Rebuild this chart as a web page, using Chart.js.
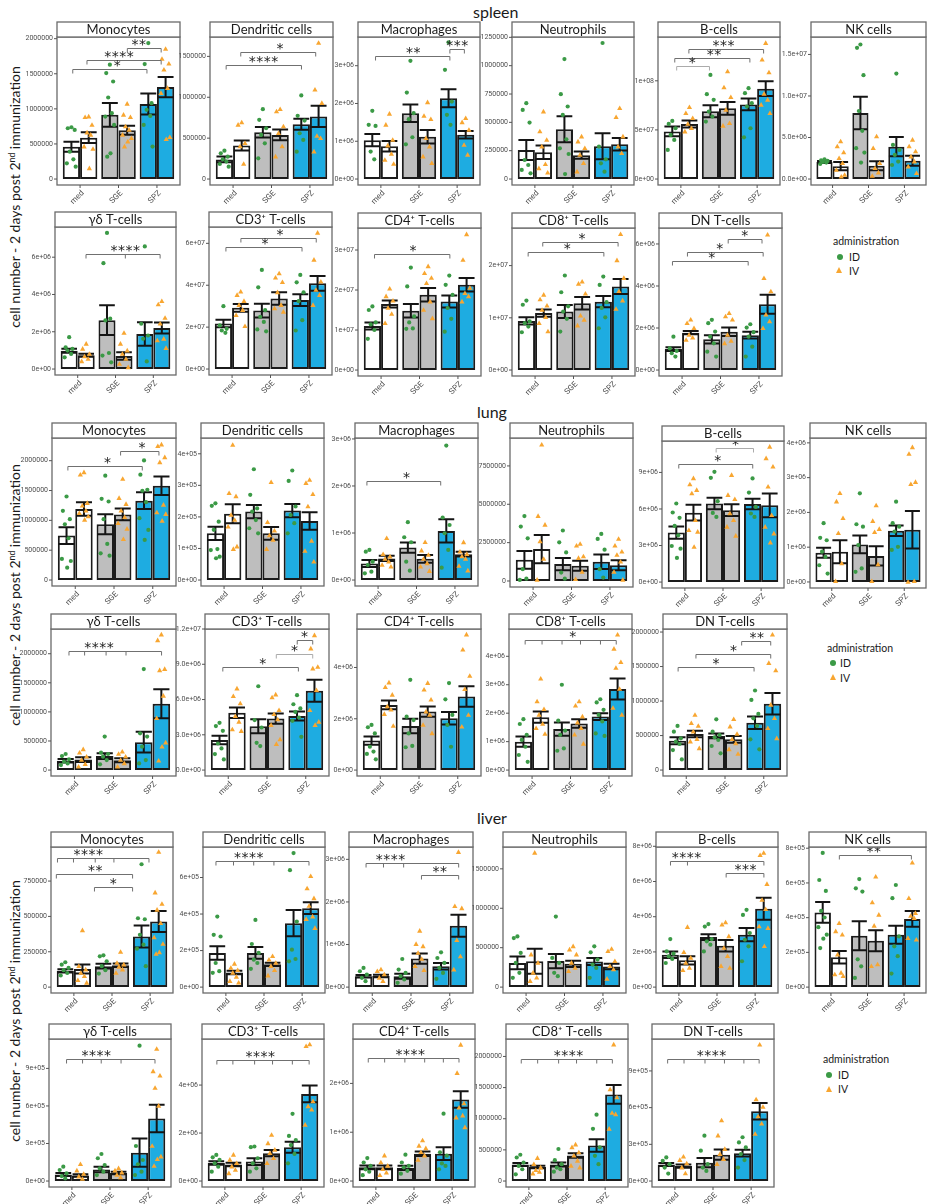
<!DOCTYPE html>
<html>
<head>
<meta charset="utf-8">
<script src="https://cdn.jsdelivr.net/npm/chart.js@4.4.1/dist/chart.umd.min.js"></script>
<style>
  html, body { margin: 0; padding: 0; background: #fff; }
  body { position: relative; width: 929px; height: 1204px; overflow: hidden; font-family: Lato, "Open Sans", sans-serif; color: #1a1a1a; }
  canvas { position: absolute; }
  .sec { position: absolute; font-size: 16px; line-height: 18px; white-space: nowrap; }
  .ytitle { position: absolute; font-size: 14px; white-space: nowrap; transform: translate(-50%, -50%) rotate(-90deg); }
  .ytitle sup { font-size: 0.62em; vertical-align: 0.55em; line-height: 0; }
  .leg { position: absolute; font-size: 10.5px; line-height: 12px; white-space: nowrap; }
  .dot { position: absolute; width: 6px; height: 6px; border-radius: 50%; background: #3b9a46; }
  .tri { position: absolute; width: 0; height: 0; border-left: 3.5px solid transparent; border-right: 3.5px solid transparent; border-bottom: 6px solid #f8a631; }
</style>
</head>
<body>
<div class="sec" style="left:473px;top:3px">spleen</div>
<div class="sec" style="left:477px;top:403px">lung</div>
<div class="sec" style="left:477px;top:809px">liver</div>

<div class="ytitle" style="left:14px;top:197px">cell number - 2 days post 2<sup>nd</sup> immunization</div>
<div class="ytitle" style="left:14px;top:595px">cell number - 2 days post 2<sup>nd</sup> immunization</div>
<div class="ytitle" style="left:14px;top:1011px">cell number - 2 days post 2<sup>nd</sup> immunization</div>

<div class="leg" style="left:833px;top:235px">administration</div>
<div class="dot" style="left:837px;top:254px"></div><div class="leg" style="left:849px;top:251px">ID</div>
<div class="tri" style="left:836px;top:267px"></div><div class="leg" style="left:849px;top:265px">IV</div>

<div class="leg" style="left:827px;top:642px">administration</div>
<div class="dot" style="left:830px;top:660px"></div><div class="leg" style="left:840px;top:657px">ID</div>
<div class="tri" style="left:830px;top:674px"></div><div class="leg" style="left:840px;top:672px">IV</div>

<div class="leg" style="left:823px;top:1053px">administration</div>
<div class="dot" style="left:826px;top:1072px"></div><div class="leg" style="left:838px;top:1069px">ID</div>
<div class="tri" style="left:826px;top:1086px"></div><div class="leg" style="left:838px;top:1083px">IV</div>

<script>
// Groups on the x axis; each group holds an ID bar and an IV bar.
const GROUPS = ['med', 'SGE', 'SPZ'];
// Order of the six bars in every array below: med-ID, med-IV, SGE-ID, SGE-IV, SPZ-ID, SPZ-IV.
// Brackets: [from, to, y, stars, label position, extra drop ticks, light line] with x in group units.

// ---------------- spleen ----------------
const spMonoMean = [460e3, 590e3, 915e3, 695e3, 1070e3, 1310e3];
const spMonoSem = [72e3, 75e3, 170e3, 65e3, 150e3, 143e3];
const spMonoPts = [
  [738e3, 724e3, 700e3, 390e3, 281e3, 224e3, 176e3],
  [890e3, 881e3, 771e3, 662e3, 629e3, 462e3, 429e3, 152e3],
  [1629e3, 1510e3, 1390e3, 1162e3, 938e3, 890e3, 771e3, 367e3, 319e3],
  [1071e3, 914e3, 881e3, 748e3, 700e3, 629e3, 581e3, 533e3, 462e3],
  [1938e3, 1638e3, 1081e3, 986e3, 900e3, 771e3, 462e3],
  [1852e3, 1710e3, 1643e3, 1557e3, 1295e3, 1224e3, 595e3, 567e3]];
const spMonoTicks = [0, 500000, 1000000, 1500000, 2000000];
const spMonoBr = [[1.23, 2.11, 1867e3, '**', 1.53], [0.18, 2.11, 1700e3, '****', 1.01], [-0.19, 1.74, 1567e3, '*', 0.97]];

const spDCMean = [240e3, 410e3, 572e3, 540e3, 670e3, 765e3];
const spDCSem = [35e3, 62e3, 65e3, 65e3, 67e3, 130e3];
const spDCPts = [
  [347e3, 315e3, 274e3, 241e3, 213e3, 184e3, 151e3],
  [691e3, 662e3, 437e3, 397e3, 184e3],
  [854e3, 724e3, 621e3, 540e3, 437e3, 253e3],
  [854e3, 826e3, 642e3, 560e3, 397e3, 274e3],
  [1022e3, 773e3, 715e3, 560e3, 478e3, 335e3],
  [1664e3, 1092e3, 928e3, 527e3, 499e3, 335e3]];
const spDCTicks = [0, 500000, 1000000, 1500000];
const spDCBr = [[0.2, 2.15, 1549e3, '*', 1.22], [-0.18, 1.78, 1398e3, '****', 0.79]];

const spMacMean = [1.03e6, 0.87e6, 1.74e6, 1.12e6, 2.14e6, 1.17e6];
const spMacSem = [0.16e6, 0.14e6, 0.23e6, 0.18e6, 0.24e6, 0.1e6];
const spMacPts = [
  [1.805e6, 1.434e6, 1.407e6, 0.726e6, 0.522e6],
  [1.726e6, 1.434e6, 1.035e6, 0.885e6, 0.664e6, 0.504e6, 0.398e6],
  [3.13e6, 2.29e6, 1.743e6, 1.584e6, 1.106e6, 0.92e6],
  [2.03e6, 1.67e6, 1.584e6, 1.08e6, 0.858e6, 0.593e6, 0.416e6],
  [3.62e6, 2.89e6, 2.05e6, 1.70e6, 1.434e6],
  [1.61e6, 1.5e6, 1.3e6, 0.9e6, 0.64e6]];
const spMacTicks = [0, 1e6, 2e6, 3e6];
const spMacBr = [[-0.14, 1.81, 3.25e6, '**', 0.85], [1.81, 2.19, 3.44e6, '***', 2.0]];

const spNeutMean = [256e3, 236e3, 439e3, 210e3, 290e3, 307e3];
const spNeutSem = [88e3, 59e3, 115e3, 32e3, 115e3, 55e3];
const spNeutPts = [
  [669e3, 610e3, 498e3, 168e3, 124e3, 80e3, 50e3],
  [595e3, 419e3, 345e3, 286e3, 130e3, 94e3, 56e3],
  [1058e3, 749e3, 640e3, 566e3, 351e3, 271e3, 221e3, 44e3],
  [374e3, 330e3, 271e3, 212e3, 139e3, 65e3],
  [1200e3, 286e3, 174e3, 139e3, 65e3],
  [625e3, 545e3, 374e3, 286e3, 227e3]];
const spNeutTicks = [0, 250000, 500000, 750000, 1000000, 1250000];
const spNeutBr = [];

const spBMean = [48.5e6, 56e6, 69e6, 72e6, 76e6, 92e6];
const spBSem = [5e6, 3.5e6, 6e6, 6.5e6, 6e6, 7.5e6];
const spBPts = [
  [59.2e6, 56.1e6, 51.7e6, 44.9e6, 39.8e6, 29.6e6],
  [73.1e6, 67e6, 61.9e6, 56.1e6, 51.7e6, 48.3e6],
  [106e6, 86.4e6, 80.6e6, 68.7e6, 63.6e6, 58.5e6],
  [109.5e6, 93.2e6, 83.3e6, 70.4e6, 56.8e6, 54.1e6],
  [92.5e6, 87.4e6, 77.2e6, 73.8e6, 51.7e6, 42.5e6],
  [138.4e6, 121.4e6, 108.5e6, 86.7e6, 80.6e6, 75.5e6, 67e6]];
const spBTicks = [0, 5e7, 1e8];
const spBBr = [[0.21, 2.17, 132.3e6, '***', 1.12], [-0.16, 1.81, 123.1e6, '**', 0.87], [-0.11, 0.75, 115.3e6, '*', 0.3, [], 1]];

const spNKMean = [2.05e6, 1.55e6, 7.95e6, 1.6e6, 3.9e6, 2.2e6];
const spNKSem = [0.12e6, 0.5e6, 1.95e6, 0.55e6, 1.15e6, 0.6e6];
const spNKPts = [
  [2.38e6, 2.25e6, 2.18e6, 2.05e6, 1.98e6, 1.81e6],
  [4.52e6, 3.91e6, 3.19e6, 2.5e6, 1.9e6, 1.09e6, 0.48e6, 0.28e6],
  [16.2e6, 15.8e6, 12.5e6, 8.19e6, 5.8e6, 3.71e6, 3.19e6, 1.98e6],
  [5.12e6, 3.71e6, 1.9e6, 1.29e6, 0.77e6, 0.36e6],
  [12.7e6, 4.11e6, 3.5e6, 2.9e6, 2.1e6, 1.69e6],
  [4.72e6, 3.91e6, 3.31e6, 2.7e6, 2.1e6, 1.49e6, 0.69e6]];
const spNKTicks = [0, 5e6, 1e7, 1.5e7];
const spNKBr = [];

const spGDMean = [0.98e6, 0.74e6, 2.62e6, 0.7e6, 1.88e6, 2.2e6];
const spGDSem = [0.11e6, 0.08e6, 0.8e6, 0.2e6, 0.63e6, 0.3e6];
const spGDPts = [
  [1.71e6, 1.17e6, 1.08e6, 0.99e6, 0.81e6, 0.63e6],
  [1.35e6, 1.08e6, 0.81e6, 0.67e6, 0.54e6, 0.41e6],
  [7.3e6, 5.68e6, 2.7e6, 2.61e6, 0.86e6, 0.72e6, 0.36e6],
  [1.93e6, 1.35e6, 0.99e6, 0.81e6, 0.54e6, 0.27e6, 0.09e6],
  [6.58e6, 2.43e6, 1.8e6, 1.62e6, 0.41e6],
  [3.64e6, 3.46e6, 2.74e6, 2.43e6, 1.62e6, 1.53e6, 1.12e6]];
const spGDTicks = [0, 2e6, 4e6, 6e6];
const spGDBr = [[0.22, 2.18, 6.16e6, '****', 1.26, [1.26]]];

const spCD3Mean = [21.7e6, 29.2e6, 27.9e6, 33.7e6, 32.9e6, 40.9e6];
const spCD3Sem = [1.8e6, 1.8e6, 3.3e6, 3e6, 2.8e6, 3.5e6];
const spCD3Pts = [
  [30e6, 20.8e6, 19.2e6, 18.4e6, 17.3e6],
  [36.9e6, 35.3e6, 32.4e6, 30.5e6, 28.1e6, 25.7e6, 20.4e6],
  [47.3e6, 39e6, 28.1e6, 24.9e6, 22.5e6, 18.9e6, 18e6],
  [45.6e6, 43.6e6, 41.4e6, 36.6e6, 30.5e6, 28.9e6, 27.3e6],
  [44.9e6, 41.4e6, 36.6e6, 32.4e6, 23.3e6, 18.4e6],
  [65e6, 52.1e6, 41.7e6, 37.7e6, 35.3e6, 30.5e6]];
const spCD3Ticks = [0, 2e7, 4e7, 6e7];
const spCD3Br = [[0.23, 2.19, 62.6e6, '*', 1.25], [-0.16, 1.82, 58.2e6, '*', 0.86]];

const spCD4Mean = [11e6, 16.5e6, 14.8e6, 18.8e6, 17.1e6, 21.3e6];
const spCD4Sem = [0.85e6, 0.9e6, 1.7e6, 1.7e6, 1.5e6, 1.7e6];
const spCD4Pts = [
  [15.9e6, 15e6, 11.9e6, 11.4e6, 10e6, 7.8e6],
  [20.3e6, 18.4e6, 17.3e6, 15.5e6, 14e6, 11.7e6],
  [25.6e6, 20.9e6, 13.4e6, 11.9e6, 10.4e6, 10.3e6],
  [25.9e6, 24.2e6, 23e6, 21.7e6, 17.1e6, 15e6, 12.9e6],
  [23.6e6, 21.3e6, 18.8e6, 15.5e6, 12.8e6, 9.6e6],
  [33.9e6, 27.5e6, 20.5e6, 19.2e6, 18.4e6, 17.1e6]];
const spCD4Ticks = [0, 1e7, 2e7, 3e7];
const spCD4Br = [[-0.17, 1.79, 29e6, '*', 0.83]];

const spCD8Mean = [9.4e6, 10.9e6, 11.2e6, 12.8e6, 13.1e6, 16e6];
const spCD8Sem = [0.7e6, 0.7e6, 1.25e6, 1.2e6, 1.1e6, 1.45e6];
const spCD8Pts = [
  [13.3e6, 12.5e6, 9.3e6, 8.97e6, 8.33e6, 7.24e6],
  [14.4e6, 13.5e6, 12.3e6, 11.5e6, 10.1e6, 8.97e6, 7.37e6],
  [18.1e6, 14.9e6, 12.2e6, 11.2e6, 9.8e6, 7.37e6],
  [16.9e6, 16.5e6, 14.6e6, 10.4e6, 9.6e6, 8.5e6],
  [17.9e6, 16.3e6, 13e6, 11.9e6, 10.1e6, 8e6],
  [26e6, 21e6, 17.6e6, 15.1e6, 13.3e6, 11.7e6]];
const spCD8Ticks = [0, 1e7, 2e7];
const spCD8Br = [[0.2, 2.16, 24.5e6, '*', 1.22], [-0.18, 1.79, 22.6e6, '*', 0.84]];

const spDNMean = [1.0e6, 1.78e6, 1.46e6, 1.82e6, 1.66e6, 3.13e6];
const spDNSem = [0.09e6, 0.08e6, 0.2e6, 0.2e6, 0.16e6, 0.45e6];
const spDNPts = [
  [1.59e6, 1.03e6, 0.91e6, 0.8e6, 0.64e6],
  [2.39e6, 2.23e6, 1.99e6, 1.67e6, 1.54e6, 1.43e6],
  [2.39e6, 2.23e6, 1.83e6, 1.59e6, 1.27e6, 0.875e6, 0.64e6],
  [2.7e6, 2.55e6, 2.39e6, 1.67e6, 1.38e6, 1.27e6],
  [2.18e6, 2.02e6, 1.8e6, 1.59e6, 1.11e6, 0.64e6],
  [6.44e6, 4.37e6, 3.74e6, 2.63e6, 2.31e6, 1.99e6]];
const spDNTicks = [0, 2e6, 4e6, 6e6];
const spDNBr = [[1.2, 2.08, 6.24e6, '*', 1.63], [0.14, 2.11, 5.62e6, '*', 0.98], [-0.25, 1.72, 5.17e6, '*', 0.77]];

// ---------------- lung ----------------
const luMonoMean = [745e3, 1190e3, 935e3, 1100e3, 1330e3, 1580e3];
const luMonoSem = [140e3, 112e3, 168e3, 100e3, 140e3, 155e3];
const luMonoPts = [
  [1400e3, 1160e3, 1020e3, 935e3, 700e3, 353e3, 319e3, 207e3],
  [1804e3, 1765e3, 1288e3, 1244e3, 1160e3, 1120e3, 1064e3, 1008e3],
  [1748e3, 1361e3, 1316e3, 1020e3, 605e3, 448e3, 409e3],
  [1692e3, 1372e3, 1272e3, 1160e3, 1053e3, 952e3, 857e3, 683e3],
  [2005e3, 1765e3, 1513e3, 1496e3, 1305e3, 1036e3, 840e3, 672e3],
  [2269e3, 2241e3, 2056e3, 1972e3, 1260e3, 1132e3, 1104e3, 992e3]];
const luMonoTicks = [0, 500000, 1000000, 1500000, 2000000];
const luMonoBr = [[1.17, 2.16, 2.168e6, '*', 1.72], [-0.19, 1.73, 1.905e6, '*', 0.83]];

const luDCMean = [148e3, 210e3, 217e3, 148e3, 220e3, 187e3];
const luDCSem = [21e3, 30e3, 21e3, 20e3, 21e3, 28e3];
const luDCPts = [
  [243e3, 235e3, 185e3, 159e3, 98e3, 95e3, 74e3, 69e3],
  [428e3, 275e3, 265e3, 206e3, 190e3, 169e3, 106e3, 98e3],
  [351e3, 270e3, 227e3, 217e3, 190e3, 164e3, 148e3],
  [310e3, 183e3, 156e3, 141e3, 127e3, 98e3],
  [347e3, 314e3, 233e3, 206e3, 180e3, 148e3],
  [317e3, 307e3, 272e3, 233e3, 124e3, 92e3, 58e3]];
const luDCTicks = [0, 1e5, 2e5, 3e5, 4e5];
const luDCBr = [];

const luMacMean = [0.35e6, 0.46e6, 0.69e6, 0.45e6, 1.045e6, 0.55e6];
const luMacSem = [0.075e6, 0.055e6, 0.11e6, 0.08e6, 0.245e6, 0.05e6];
const luMacPts = [
  [0.64e6, 0.604e6, 0.39e6, 0.32e6, 0.178e6, 0.142e6],
  [0.888e6, 0.547e6, 0.497e6, 0.448e6, 0.39e6, 0.32e6, 0.284e6],
  [1.23e6, 0.91e6, 0.803e6, 0.39e6, 0.2e6],
  [0.803e6, 0.625e6, 0.533e6, 0.448e6, 0.355e6, 0.284e6, 0.19e6],
  [2.86e6, 1.33e6, 1.17e6, 0.995e6, 0.64e6, 0.263e6],
  [0.8e6, 0.6e6, 0.55e6, 0.5e6, 0.45e6, 0.3e6, 0.2e6]];
const luMacTicks = [0, 1e6, 2e6, 3e6];
const luMacBr = [[-0.29, 1.63, 2.11e6, '*', 0.74]];

const luNeutMean = [1.38e6, 2.08e6, 1.1e6, 0.99e6, 1.25e6, 1.03e6];
const luNeutSem = [0.58e6, 0.92e6, 0.4e6, 0.33e6, 0.47e6, 0.33e6];
const luNeutPts = [
  [4.23e6, 3.55e6, 2.78e6, 0.77e6, 0.15e6, 0.07e6],
  [8.88e6, 4.23e6, 3.66e6, 2.57e6, 1.43e6, 0.07e6],
  [3.29e6, 2.52e6, 1.86e6, 0.55e6, 0.15e6],
  [2.41e6, 2.3e6, 1.6e6, 1.49e6, 0.59e6, 0.11e6],
  [3.07e6, 2.74e6, 2.04e6, 0.77e6, 0.22e6],
  [2.74e6, 2.3e6, 1.91e6, 1.69e6, 1.25e6, 0.59e6, 0.07e6]];
const luNeutTicks = [0, 2500000, 5000000, 7500000];
const luNeutBr = [];

const luBMean = [4.06e6, 5.7e6, 6.45e6, 5.9e6, 6.4e6, 6.3e6];
const luBSem = [0.5e6, 0.65e6, 0.48e6, 0.48e6, 0.43e6, 0.98e6];
const luBPts = [
  [6.45e6, 5.71e6, 5.27e6, 4.61e6, 3.84e6, 2.96e6, 2.74e6, 1.98e6],
  [8.51e6, 8.01e6, 7.55e6, 7.27e6, 5.08e6, 4.25e6, 4.12e6, 2.88e6],
  [9.05e6, 8.56e6, 6.64e6, 5.68e6, 5.35e6],
  [8.78e6, 7.14e6, 6.8e6, 5.63e6, 5.08e6, 4.53e6, 3.79e6],
  [8.51e6, 7.35e6, 6.17e6, 5.63e6, 5.35e6],
  [11.1e6, 10.15e6, 9.47e6, 7.82e6, 5.49e6, 4.53e6, 3.98e6, 3.24e6]];
const luBTicks = [0, 3e6, 6e6, 9e6];
const luBBr = [[0.82, 1.8, 10.98e6, '*', 1.33, [], 1], [-0.16, 1.78, 9.66e6, '*', 0.86]];

const luNKMean = [0.84e6, 0.87e6, 1.08e6, 0.75e6, 1.47e6, 1.5e6];
const luNKSem = [0.145e6, 0.33e6, 0.255e6, 0.28e6, 0.15e6, 0.54e6];
const luNKPts = [
  [1.69e6, 1.27e6, 1.2e6, 0.87e6, 0.72e6, 0.48e6, 0.24e6],
  [2.55e6, 2.31e6, 1.83e6, 1.4e6, 0.53e6, 0.02e6],
  [2.55e6, 1.66e6, 1.59e6, 1.06e6, 0.39e6, 0.29e6],
  [2.2e6, 1.75e6, 1.52e6, 1.43e6, 0.5e6, 0.02e6],
  [2.31e6, 1.69e6, 1.59e6, 1.45e6, 1.01e6, 0.92e6],
  [3.87e6, 3.68e6, 2.87e6, 2.81e6, 0.02e6, 0]];
const luNKTicks = [0, 1e6, 2e6, 3e6, 4e6];
const luNKBr = [];

const luGDMean = [160e3, 180e3, 240e3, 170e3, 480e3, 1140e3];
const luGDSem = [30e3, 40e3, 50e3, 35e3, 180e3, 250e3];
const luGDPts = [
  [276e3, 241e3, 184e3, 144e3, 115e3, 86e3],
  [356e3, 299e3, 230e3, 172e3, 103e3, 57e3],
  [575e3, 299e3, 276e3, 230e3, 172e3, 98e3],
  [316e3, 276e3, 230e3, 172e3, 115e3, 57e3],
  [1736e3, 632e3, 575e3, 402e3, 172e3, 115e3],
  [2328e3, 2230e3, 1736e3, 1713e3, 1276e3, 891e3, 471e3, 402e3, 161e3]];
const luGDTicks = [0, 500000, 1000000, 1500000, 2000000];
const luGDBr = [[-0.14, 2.23, 2.04e6, '****', 0.63, [0.26, 0.81, 1.32]]];

const luCD3Mean = [2.55e6, 4.87e6, 3.73e6, 4.38e6, 4.6e6, 6.75e6];
const luCD3Sem = [0.36e6, 0.45e6, 0.6e6, 0.43e6, 0.38e6, 0.93e6];
const luCD3Pts = [
  [4.02e6, 3.74e6, 3.34e6, 2.26e6, 1.84e6, 1.36e6, 0.91e6],
  [6.93e6, 6.28e6, 5.66e6, 4.58e6, 4.1e6, 3.45e6, 3.31e6],
  [7.13e6, 4.25e6, 3.62e6, 2.32e6, 2.04e6],
  [6.42e6, 6.17e6, 5.09e6, 4.75e6, 4.3e6, 3.82e6, 2.6e6, 2.21e6],
  [6.37e6, 5.6e6, 5.24e6, 4.95e6, 4.47e6, 4.19e6, 2.83e6],
  [11.46e6, 10.33e6, 8.77e6, 8.63e6, 6.79e6, 5.09e6, 4.1e6, 3.82e6]];
const luCD3Ticks = [0, 3e6, 6e6, 9e6, 1.2e7];
const luCD3Br = [[1.78, 2.18, 11.04e6, '*', 1.97], [1.24, 2.18, 9.9e6, '*', 1.71, [], 1], [-0.14, 1.81, 8.77e6, '*', 0.89]];

const luCD4Mean = [1.15e6, 2.54e6, 1.72e6, 2.28e6, 2.02e6, 2.87e6];
const luCD4Sem = [0.16e6, 0.17e6, 0.28e6, 0.2e6, 0.24e6, 0.4e6];
const luCD4Pts = [
  [1.76e6, 1.67e6, 1.43e6, 0.91e6, 0.72e6, 0.63e6, 0.42e6],
  [3.41e6, 3.23e6, 2.93e6, 2.48e6, 2.35e6, 2.18e6, 1.72e6],
  [3.52e6, 2.08e6, 1.95e6, 1.43e6, 0.94e6, 0.89e6],
  [3.39e6, 3.13e6, 2.74e6, 2.28e6, 2.15e6, 1.76e6, 1.43e6],
  [3.39e6, 2.76e6, 2.15e6, 1.76e6, 0.91e6],
  [5.28e6, 4.69e6, 3.67e6, 3.15e6, 2.15e6, 1.69e6]];
const luCD4Ticks = [0, 2e6, 4e6];
const luCD4Br = [];

const luCD8Mean = [1.0e6, 1.86e6, 1.44e6, 1.64e6, 1.88e6, 2.85e6];
const luCD8Sem = [0.18e6, 0.2e6, 0.23e6, 0.15e6, 0.12e6, 0.37e6];
const luCD8Pts = [
  [1.79e6, 1.62e6, 1.24e6, 1.06e6, 0.82e6, 0.53e6, 0.29e6],
  [3.21e6, 2.41e6, 2.14e6, 1.94e6, 1.62e6, 1.47e6, 1.27e6],
  [3.0e6, 1.74e6, 1.39e6, 1.24e6, 0.76e6, 0.68e6],
  [2.41e6, 2.26e6, 1.88e6, 1.67e6, 1.47e6, 1.24e6, 0.92e6],
  [2.49e6, 2.38e6, 2.12e6, 1.94e6, 1.71e6, 1.29e6, 1.2e6],
  [4.76e6, 4.26e6, 3.79e6, 3.59e6, 2.85e6, 2.18e6, 1.94e6]];
const luCD8Ticks = [0, 1e6, 2e6, 3e6, 4e6];
const luCD8Br = [[-0.18, 2.19, 4.59e6, '*', 1.06, [0.26, 0.78, 1.26, 1.78]]];

const luDNMean = [425e3, 523e3, 495e3, 445e3, 685e3, 960e3];
const luDNSem = [50e3, 48e3, 35e3, 50e3, 90e3, 155e3];
const luDNPts = [
  [639e3, 557e3, 460e3, 412e3, 378e3, 290e3, 155e3],
  [799e3, 678e3, 639e3, 557e3, 446e3, 412e3, 315e3],
  [736e3, 557e3, 508e3, 475e3, 436e3, 349e3, 242e3],
  [736e3, 630e3, 523e3, 446e3, 387e3, 300e3, 232e3],
  [1153e3, 1017e3, 813e3, 750e3, 639e3, 446e3, 300e3],
  [1961e3, 1550e3, 1443e3, 944e3, 750e3, 605e3, 460e3]];
const luDNTicks = [0, 500000, 1000000, 1500000, 2000000];
const luDNBr = [[1.43, 2.18, 1.865e6, '**', 1.82], [0.25, 2.18, 1.68e6, '*', 1.22], [-0.21, 1.75, 1.5e6, '*', 0.77]];

// ---------------- liver ----------------
const liMonoMean = [115e3, 128e3, 148e3, 155e3, 358e3, 464e3];
const liMonoSem = [12e3, 32e3, 17e3, 12e3, 77e3, 75e3];
const liMonoPts = [
  [176e3, 159e3, 136e3, 120e3, 100e3, 82e3],
  [401e3, 148e3, 124e3, 100e3, 77e3, 49e3, 30e3],
  [225e3, 218e3, 183e3, 148e3, 120e3, 96e3],
  [248e3, 171e3, 159e3, 143e3, 124e3, 100e3],
  [869e3, 487e3, 480e3, 370e3, 300e3, 272e3, 148e3],
  [956e3, 668e3, 588e3, 546e3, 452e3, 351e3, 305e3, 246e3, 234e3]];
const liMonoTicks = [0, 250000, 500000, 750000];
const liMonoBr = [[-0.43, 1.97, 916e3, '****', 0.38, [-0.01, 0.56, 1.05]], [-0.46, 1.54, 799e3, '**', 0.56], [0.54, 1.54, 705e3, '*', 1.03]];

const liDCMean = [187e3, 80e3, 187e3, 125e3, 350e3, 432e3];
const liDCSem = [37e3, 9e3, 32e3, 9e3, 72e3, 32e3];
const liDCPts = [
  [386e3, 286e3, 277e3, 132e3, 87e3, 78e3],
  [127e3, 105e3, 92e3, 78e3, 56e3, 33e3, 24e3],
  [368e3, 236e3, 187e3, 150e3, 132e3, 100e3],
  [169e3, 150e3, 132e3, 114e3, 92e3, 63e3],
  [734e3, 640e3, 359e3, 205e3, 154e3, 141e3],
  [607e3, 540e3, 486e3, 444e3, 386e3, 372e3, 323e3]];
const liDCTicks = [0, 2e5, 4e5, 6e5];
const liDCBr = [[-0.26, 2.18, 691e3, '****', 0.6, [0.2, 0.73, 1.26]]];

const liMacMean = [0.255e6, 0.26e6, 0.255e6, 0.67e6, 0.49e6, 1.44e6];
const liMacSem = [0.03e6, 0.03e6, 0.06e6, 0.12e6, 0.075e6, 0.26e6];
const liMacPts = [
  [0.45e6, 0.373e6, 0.295e6, 0.218e6, 0.14e6],
  [0.412e6, 0.373e6, 0.295e6, 0.218e6, 0.14e6],
  [0.66e6, 0.412e6, 0.334e6, 0.256e6, 0.179e6, 0.1e6],
  [1.32e6, 1.01e6, 0.956e6, 0.8e6, 0.66e6, 0.49e6, 0.396e6],
  [0.816e6, 0.684e6, 0.567e6, 0.45e6, 0.334e6, 0.194e6],
  [3.17e6, 1.9e6, 1.85e6, 1.1e6, 0.72e6, 0.41e6]];
const liMacTicks = [0, 1e6, 2e6, 3e6];
const liMacBr = [[-0.16, 2.23, 2.92e6, '****', 0.47, [0.29, 0.81]], [1.27, 2.23, 2.63e6, '**', 1.74]];

const liNeutMean = [307e3, 328e3, 330e3, 295e3, 325e3, 262e3];
const liNeutSem = [80e3, 157e3, 90e3, 40e3, 45e3, 35e3];
const liNeutPts = [
  [643e3, 622e3, 433e3, 307e3, 181e3, 118e3],
  [1702e3, 412e3, 307e3, 181e3, 118e3, 76e3],
  [895e3, 370e3, 307e3, 181e3, 139e3],
  [517e3, 475e3, 412e3, 307e3, 244e3, 202e3],
  [517e3, 441e3, 349e3, 286e3, 244e3, 118e3],
  [483e3, 454e3, 328e3, 265e3, 223e3, 105e3]];
const liNeutTicks = [0, 500000, 1000000, 1500000];
const liNeutBr = [];

const liBMean = [1.84e6, 1.52e6, 2.84e6, 2.35e6, 2.98e6, 4.45e6];
const liBSem = [0.18e6, 0.24e6, 0.16e6, 0.33e6, 0.38e6, 0.62e6];
const liBPts = [
  [2.73e6, 2.03e6, 1.9e6, 1.75e6, 1.6e6, 1.37e6],
  [3.41e6, 1.98e6, 1.66e6, 1.37e6, 1.09e6, 0.96e6],
  [3.58e6, 3.44e6, 2.73e6, 2.6e6, 2.41e6, 2.03e6],
  [3.67e6, 3.54e6, 2.88e6, 2.22e6, 1.75e6, 1.19e6, 1.09e6],
  [4.39e6, 4.1e6, 3.07e6, 2.69e6, 2.32e6, 1.47e6],
  [7.62e6, 7.49e6, 5.85e6, 4.95e6, 4.42e6, 3.44e6, 3.35e6, 2.32e6]];
const liBTicks = [0, 2e6, 4e6, 6e6, 8e6];
const liBBr = [[-0.22, 2.23, 7.17e6, '****', 0.2, [0.225]], [1.24, 2.23, 6.51e6, '***', 1.75]];

const liNKMean = [430e3, 172e3, 296e3, 267e3, 302e3, 393e3];
const liNKSem = [60e3, 36e3, 84e3, 60e3, 52e3, 45e3];
const liNKPts = [
  [773e3, 617e3, 554e3, 439e3, 401e3, 345e3, 302e3, 279e3, 225e3],
  [368e3, 321e3, 302e3, 187e3, 82e3, 73e3, 63e3],
  [622e3, 569e3, 550e3, 160e3, 120e3, 53e3],
  [636e3, 487e3, 416e3, 353e3, 130e3, 120e3],
  [588e3, 512e3, 292e3, 235e3, 178e3, 78e3],
  [716e3, 512e3, 426e3, 410e3, 397e3, 282e3, 273e3]];
const liNKTicks = [0, 2e5, 4e5, 6e5, 8e5];
const liNKBr = [[0.23, 2.2, 760e3, '**', 1.17]];

const liGDMean = [52e3, 45e3, 92e3, 65e3, 227e3, 500e3];
const liGDSem = [12e3, 10e3, 22e3, 10e3, 113e3, 110e3];
const liGDPts = [
  [115e3, 88e3, 61e3, 40e3, 21e3],
  [134e3, 83e3, 56e3, 35e3, 16e3],
  [216e3, 182e3, 128e3, 101e3, 75e3, 48e3],
  [101e3, 83e3, 67e3, 48e3, 29e3],
  [1082e3, 280e3, 168e3, 134e3, 75e3, 48e3],
  [1055e3, 876e3, 841e3, 743e3, 601e3, 280e3, 195e3, 174e3, 120e3]];
const liGDTicks = [0, 3e5, 6e5, 9e5];
const liGDBr = [[-0.14, 2.18, 975e3, '****', 0.64, [0.28, 0.77, 1.29]]];

const liCD3Mean = [0.75e6, 0.69e6, 0.81e6, 1.16e6, 1.41e6, 3.63e6];
const liCD3Sem = [0.07e6, 0.07e6, 0.14e6, 0.13e6, 0.23e6, 0.35e6];
const liCD3Pts = [
  [1.09e6, 0.99e6, 0.88e6, 0.74e6, 0.6e6, 0.39e6],
  [1.09e6, 0.88e6, 0.74e6, 0.6e6, 0.46e6, 0.32e6],
  [1.44e6, 1.41e6, 0.95e6, 0.74e6, 0.53e6, 0.39e6],
  [1.92e6, 1.57e6, 1.3e6, 1.16e6, 0.95e6, 0.74e6],
  [2.8e6, 1.88e6, 1.71e6, 1.5e6, 1.13e6, 0.74e6],
  [5.69e6, 5.62e6, 3.32e6, 3.11e6, 2.97e6, 2.34e6]];
const liCD3Ticks = [0, 2e6, 4e6];
const liCD3Br = [[-0.21, 2.21, 5.06e6, '****', 0.93, [0.21, 0.78, 1.25, 1.77]]];

const liCD4Mean = [0.28e6, 0.28e6, 0.27e6, 0.56e6, 0.56e6, 1.67e6];
const liCD4Sem = [0.04e6, 0.04e6, 0.045e6, 0.045e6, 0.13e6, 0.17e6];
const liCD4Pts = [
  [0.47e6, 0.38e6, 0.31e6, 0.24e6, 0.19e6, 0.12e6],
  [0.52e6, 0.38e6, 0.31e6, 0.24e6, 0.17e6, 0.12e6],
  [0.54e6, 0.38e6, 0.31e6, 0.28e6, 0.21e6, 0.15e6],
  [0.83e6, 0.72e6, 0.67e6, 0.59e6, 0.52e6, 0.43e6],
  [1.38e6, 0.59e6, 0.52e6, 0.36e6, 0.31e6, 0.24e6],
  [2.79e6, 2.21e6, 1.59e6, 1.5e6, 1.34e6, 1.3e6, 1.1e6]];
const liCD4Ticks = [0, 1e6, 2e6];
const liCD4Br = [[-0.2, 2.18, 2.52e6, '****', 0.9, [0.23, 0.76, 1.28, 1.77]]];

const liCD8Mean = [265e3, 225e3, 265e3, 410e3, 570e3, 1390e3];
const liCD8Sem = [25e3, 20e3, 32e3, 35e3, 100e3, 150e3];
const liCD8Pts = [
  [422e3, 378e3, 297e3, 243e3, 189e3, 108e3],
  [367e3, 270e3, 216e3, 173e3, 146e3, 119e3],
  [514e3, 335e3, 270e3, 216e3, 189e3, 151e3],
  [584e3, 541e3, 459e3, 405e3, 324e3, 243e3, 216e3],
  [1065e3, 838e3, 541e3, 405e3, 270e3],
  [2189e3, 1470e3, 1340e3, 1092e3, 1070e3, 838e3]];
const liCD8Ticks = [0, 500000, 1000000, 1500000, 2000000];
const liCD8Br = [[-0.2, 2.19, 1.957e6, '****', 1.04, [0.23, 0.78, 1.25, 1.78]]];

const liDNMean = [135e3, 122e3, 150e3, 215e3, 228e3, 570e3];
const liDNSem = [12e3, 13e3, 38e3, 42e3, 28e3, 67e3];
const liDNPts = [
  [193e3, 165e3, 138e3, 110e3, 61e3],
  [198e3, 171e3, 143e3, 110e3, 61e3],
  [371e3, 248e3, 138e3, 110e3, 83e3],
  [495e3, 371e3, 261e3, 220e3, 179e3, 138e3],
  [358e3, 316e3, 275e3, 220e3, 171e3, 110e3],
  [1114e3, 666e3, 605e3, 528e3, 468e3, 385e3]];
const liDNTicks = [0, 3e5, 6e5, 9e5];
const liDNBr = [[-0.19, 2.21, 996e3, '****', 0.96, [0.24, 0.79, 1.3, 1.81]]];

// ---------------- layout ----------------
// title, [left, strip top, right, bottom], mean, sem, points, ticks, tick-label digits (-1 = plain), y at panel top, brackets
const PANELS = [
  ['Monocytes',        [57, 22, 180, 185],   spMonoMean, spMonoSem, spMonoPts, spMonoTicks, -1, 2.024e6, spMonoBr],
  ['Dendritic cells',  [210, 22, 333, 185],  spDCMean, spDCSem, spDCPts, spDCTicks, -1, 1.737e6, spDCBr],
  ['Macrophages',      [358, 22, 480, 185],  spMacMean, spMacSem, spMacPts, spMacTicks, 0, 3.76e6, spMacBr],
  ['Neutrophils',      [512, 22, 634, 185],  spNeutMean, spNeutSem, spNeutPts, spNeutTicks, -1, 1.253e6, spNeutBr],
  ['B-cells',          [658, 22, 780, 185],  spBMean, spBSem, spBPts, spBTicks, 0, 144.6e6, spBBr],
  ['NK cells',         [811, 22, 926, 185],  spNKMean, spNKSem, spNKPts, spNKTicks, 1, 17.1e6, spNKBr],
  ['\u03b3\u03b4 T-cells', [55, 212, 176, 375], spGDMean, spGDSem, spGDPts, spGDTicks, 0, 7.62e6, spGDBr],
  ['CD3\u207a T-cells',   [209, 212, 332, 375], spCD3Mean, spCD3Sem, spCD3Pts, spCD3Ticks, 0, 67.8e6, spCD3Br],
  ['CD4\u207a T-cells',   [358, 213, 481, 376], spCD4Mean, spCD4Sem, spCD4Pts, spCD4Ticks, 0, 35.5e6, spCD4Br],
  ['CD8\u207a T-cells',   [512, 213, 635, 376], spCD8Mean, spCD8Sem, spCD8Pts, spCD8Ticks, 0, 27.2e6, spCD8Br],
  ['DN T-cells',       [659, 213, 782, 376], spDNMean, spDNSem, spDNPts, spDNTicks, 0, 6.76e6, spDNBr],

  ['Monocytes',        [52, 423, 176, 586],  luMonoMean, luMonoSem, luMonoPts, luMonoTicks, -1, 2.38e6, luMonoBr],
  ['Dendritic cells',  [201, 423, 324, 586], luDCMean, luDCSem, luDCPts, luDCTicks, 0, 4.5e5, luDCBr],
  ['Macrophages',      [355, 423, 478, 586], luMacMean, luMacSem, luMacPts, luMacTicks, 0, 3.02e6, luMacBr],
  ['Neutrophils',      [510, 423, 633, 587], luNeutMean, luNeutSem, luNeutPts, luNeutTicks, -1, 9.32e6, luNeutBr],
  ['B-cells',          [662, 426, 784, 588], luBMean, luBSem, luBPts, luBTicks, 0, 11.58e6, luBBr],
  ['NK cells',         [810, 423, 926, 588], luNKMean, luNKSem, luNKPts, luNKTicks, 0, 4.14e6, luNKBr],
  ['\u03b3\u03b4 T-cells', [51, 614, 176, 776], luGDMean, luGDSem, luGDPts, luGDTicks, -1, 2.425e6, luGDBr],
  ['CD3\u207a T-cells',   [205, 614, 329, 776], luCD3Mean, luCD3Sem, luCD3Pts, luCD3Ticks, 1, 12.0e6, luCD3Br],
  ['CD4\u207a T-cells',   [357, 614, 481, 776], luCD4Mean, luCD4Sem, luCD4Pts, luCD4Ticks, 0, 5.5e6, luCD4Br],
  ['CD8\u207a T-cells',   [509, 614, 632, 776], luCD8Mean, luCD8Sem, luCD8Pts, luCD8Ticks, 0, 4.96e6, luCD8Br],
  ['DN T-cells',       [663, 614, 787, 776], luDNMean, luDNSem, luDNPts, luDNTicks, -1, 2.044e6, luDNBr],

  ['Monocytes',        [51, 832, 173, 993],  liMonoMean, liMonoSem, liMonoPts, liMonoTicks, -1, 991e3, liMonoBr],
  ['Dendritic cells',  [203, 832, 325, 993], liDCMean, liDCSem, liDCPts, liDCTicks, 0, 767e3, liDCBr],
  ['Macrophages',      [349, 832, 473, 993], liMacMean, liMacSem, liMacPts, liMacTicks, 0, 3.29e6, liMacBr],
  ['Neutrophils',      [503, 832, 626, 993], liNeutMean, liNeutSem, liNeutPts, liNeutTicks, -1, 1.777e6, liNeutBr],
  ['B-cells',          [656, 832, 778, 993], liBMean, liBSem, liBPts, liBTicks, 0, 7.96e6, liBBr],
  ['NK cells',         [809, 832, 926, 993], liNKMean, liNKSem, liNKPts, liNKTicks, 0, 807e3, liNKBr],
  ['\u03b3\u03b4 T-cells', [49, 1024, 171, 1187], liGDMean, liGDSem, liGDPts, liGDTicks, 0, 1.135e6, liGDBr],
  ['CD3\u207a T-cells',   [202, 1024, 324, 1187], liCD3Mean, liCD3Sem, liCD3Pts, liCD3Ticks, 0, 5.92e6, liCD3Br],
  ['CD4\u207a T-cells',   [353, 1024, 475, 1187], liCD4Mean, liCD4Sem, liCD4Pts, liCD4Ticks, 0, 2.91e6, liCD4Br],
  ['CD8\u207a T-cells',   [506, 1024, 628, 1187], liCD8Mean, liCD8Sem, liCD8Pts, liCD8Ticks, -1, 2.28e6, liCD8Br],
  ['DN T-cells',       [652, 1024, 774, 1187], liDNMean, liDNSem, liDNPts, liDNTicks, 0, 1.161e6, liDNBr]
];

const FILL = ['#ffffff', '#ffffff', '#bebebe', '#bebebe', '#1eace1', '#1eace1'];
const GREEN = '#3b9a46', ORANGE = '#f8a631';
const AXW = 50, STRIP = 15, XAXH = 28;
const JIT = [0, -0.55, 0.5, -0.25, 0.3, -0.7, 0.65, 0.1, -0.4];
const CFG = new Map();

// R-style tick labels: 2000000, 3e+06, 1.5e+07 ...
function tickLabel(v, d) {
  if (d < 0) return String(Math.round(v));
  if (v === 0) return (0).toFixed(d) + 'e+00';
  const e = Math.floor(Math.log10(Math.abs(v)) + 1e-9);
  const m = v / Math.pow(10, e);
  return m.toFixed(d) + 'e' + (e < 0 ? '-' : '+') + String(Math.abs(e)).padStart(2, '0');
}

const decor = {
  id: 'decor',
  afterDatasetsDraw(chart) {
    const c = CFG.get(chart.canvas);
    const ctx = chart.ctx, ys = chart.scales.y, xs = chart.scales.x;
    const bars = [];
    for (let i = 0; i < 6; i++) {
      const el = chart.getDatasetMeta(i % 2).data[i >> 1];
      bars.push({ x: el.x, w: el.width });
    }
    ctx.save();
    // mean +/- SEM whiskers
    ctx.strokeStyle = '#141414';
    ctx.lineWidth = 2;
    bars.forEach((b, i) => {
      const m = c.mean[i], s = c.sem[i];
      const yt = ys.getPixelForValue(m + s), yl = ys.getPixelForValue(m - s);
      const h = b.w * 0.46;
      ctx.beginPath();
      ctx.moveTo(b.x - h, yt); ctx.lineTo(b.x + h, yt);
      ctx.moveTo(b.x, yt); ctx.lineTo(b.x, yl);
      ctx.moveTo(b.x - h, yl); ctx.lineTo(b.x + h, yl);
      ctx.stroke();
    });
    // individual animals
    bars.forEach((b, i) => {
      c.pts[i].forEach((v, k) => {
        const x = b.x + JIT[k % JIT.length] * b.w * 0.38;
        const y = ys.getPixelForValue(v);
        ctx.beginPath();
        if (i % 2 === 0) {
          ctx.fillStyle = GREEN;
          ctx.arc(x, y, 2.1, 0, Math.PI * 2);
        } else {
          ctx.fillStyle = ORANGE;
          ctx.moveTo(x, y - 2.8); ctx.lineTo(x + 2.6, y + 1.8); ctx.lineTo(x - 2.6, y + 1.8); ctx.closePath();
        }
        ctx.fill();
      });
    });
    // significance brackets
    const x0 = xs.getPixelForValue(0), unit = xs.getPixelForValue(1) - x0;
    const cx = v => x0 + v * unit;
    c.br.forEach(([a, b, yv, lab, lx, tk, light]) => {
      const y = Math.round(ys.getPixelForValue(yv)) + 0.5;
      ctx.strokeStyle = light ? '#ababab' : '#707070';
      ctx.lineWidth = 1;
      ctx.beginPath();
      ctx.moveTo(cx(a), y + 4); ctx.lineTo(cx(a), y); ctx.lineTo(cx(b), y); ctx.lineTo(cx(b), y + 4);
      (tk || []).forEach(t => { ctx.moveTo(cx(t), y); ctx.lineTo(cx(t), y + 4); });
      ctx.stroke();
      ctx.fillStyle = '#222';
      ctx.font = '14px "DejaVu Sans"';
      ctx.textAlign = 'center';
      ctx.textBaseline = 'alphabetic';
      const n = lab.length, gap = 7.5, px = cx(lx);
      for (let k = 0; k < n; k++) ctx.fillText('*', px + (k - (n - 1) / 2) * gap, y + 0.5);
    });
    ctx.restore();
  },
  afterDraw(chart) {
    const c = CFG.get(chart.canvas);
    const ctx = chart.ctx, ca = chart.chartArea, ys = chart.scales.y, xs = chart.scales.x;
    const L = ca.left - c.inset, R = ca.right + c.inset, T = ca.top, B = ca.bottom;
    ctx.save();
    ctx.strokeStyle = '#6a6a6a';
    ctx.lineWidth = 1.3;
    ctx.strokeRect(L, T, R - L, B - T);
    ctx.fillStyle = '#fff';
    ctx.fillRect(L, T - STRIP, R - L, STRIP);
    ctx.strokeRect(L, T - STRIP, R - L, STRIP);
    ctx.fillStyle = '#1a1a1a';
    ctx.font = '13px Lato';
    ctx.textAlign = 'center';
    ctx.textBaseline = 'middle';
    ctx.fillText(c.title, (L + R) / 2, T - STRIP / 2 + 0.5);
    // y axis
    ctx.strokeStyle = '#555';
    ctx.lineWidth = 1;
    ctx.fillStyle = '#4d4d4d';
    ctx.font = '7px Roboto';
    ctx.textAlign = 'right';
    c.ticks.forEach(v => {
      const y = ys.getPixelForValue(v);
      ctx.beginPath(); ctx.moveTo(L - 3, y); ctx.lineTo(L, y); ctx.stroke();
      ctx.fillText(tickLabel(v, c.digits), L - 4, y);
    });
    // x axis
    ctx.font = '8px Roboto';
    GROUPS.forEach((g, i) => {
      const x = xs.getPixelForValue(i);
      ctx.beginPath(); ctx.moveTo(x, B); ctx.lineTo(x, B + 3); ctx.stroke();
      ctx.save();
      ctx.translate(x + 3, B + 7);
      ctx.rotate(-Math.PI / 4);
      ctx.textAlign = 'right';
      ctx.textBaseline = 'middle';
      ctx.fillText(g, 0, 0);
      ctx.restore();
    });
    ctx.restore();
  }
};

function makePanel(p) {
  const [title, box, mean, sem, pts, ticks, digits, ymax, br] = p;
  const [L, T, R, B] = box;
  const W = R - L;
  const inset = W * 0.1 / 3.2;
  const cTop = T - 2, cLeft = L - AXW;
  const cv = document.createElement('canvas');
  cv.width = W + AXW + 3;
  cv.height = (B - cTop) + XAXH;
  cv.style.left = cLeft + 'px';
  cv.style.top = cTop + 'px';
  document.body.appendChild(cv);
  CFG.set(cv, { title, mean, sem, pts, ticks, digits, br, inset });
  new Chart(cv, {
    type: 'bar',
    data: {
      labels: GROUPS,
      datasets: [
        { label: 'ID', data: [mean[0], mean[2], mean[4]], backgroundColor: [FILL[0], FILL[2], FILL[4]] },
        { label: 'IV', data: [mean[1], mean[3], mean[5]], backgroundColor: [FILL[1], FILL[3], FILL[5]] }
      ]
    },
    options: {
      responsive: false,
      animation: false,
      devicePixelRatio: 1,
      datasets: { bar: { borderColor: '#1b1b1b', borderWidth: 2, borderSkipped: false, categoryPercentage: 0.9, barPercentage: 1 } },
      layout: { padding: { top: 2 + STRIP, right: 3 + inset, left: 0, bottom: 0 } },
      plugins: { legend: { display: false }, tooltip: { enabled: false } },
      scales: {
        x: { grid: { display: false }, border: { display: false }, ticks: { display: false },
             afterFit: s => { s.height = XAXH; } },
        y: { min: -0.042 * ymax, max: ymax, grid: { display: false }, border: { display: false }, ticks: { display: false },
             afterFit: s => { s.width = AXW + inset; } }
      }
    },
    plugins: [decor]
  });
}

PANELS.forEach(makePanel);
</script>
</body>
</html>
